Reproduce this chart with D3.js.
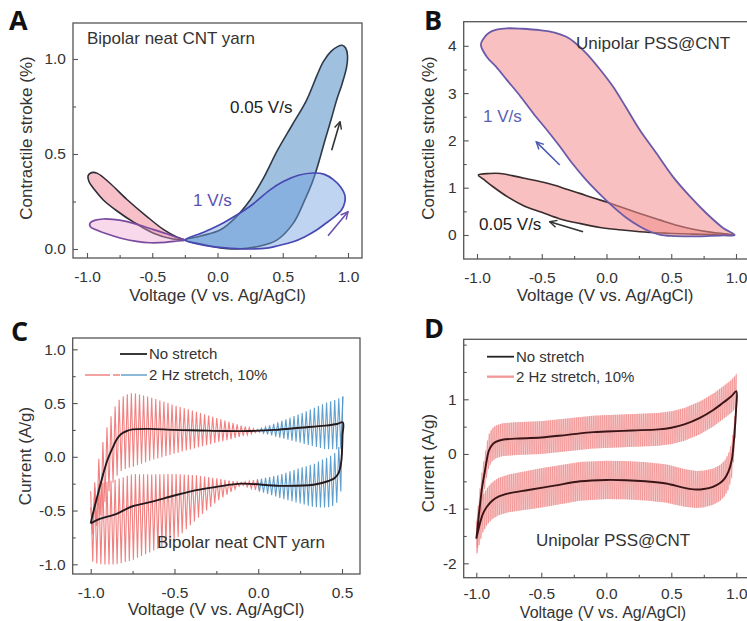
<!DOCTYPE html>
<html><head><meta charset="utf-8">
<script src="https://cdn.jsdelivr.net/npm/d3@7"></script>
<style>body{margin:0;background:#fff} text{font-family:"Liberation Sans",Arial,sans-serif;}</style>
</head><body>
<script>
// ================= DATA =================
// Panel A : contractile stroke loops, bipolar neat CNT yarn
const aLoop05Left = [[-0.25,0.047],[-0.313,0.063],[-0.415,0.103],[-0.543,0.172],[-0.696,0.262],[-0.83,0.35],[-0.92,0.398],[-0.965,0.402],[-0.992,0.385],[-0.985,0.355],[-0.94,0.31],[-0.875,0.258],[-0.77,0.2],[-0.64,0.14],[-0.49,0.083],[-0.36,0.055]];
const aLoop05Right = [[-0.25,0.047],[-0.12,0.07],[0.02,0.1],[0.13,0.16],[0.25,0.258],[0.35,0.37],[0.46,0.52],[0.57,0.65],[0.683,0.784],[0.76,0.91],[0.81,0.985],[0.87,1.04],[0.92,1.065],[0.955,1.072],[0.982,1.058],[0.996,1.02],[0.99,0.96],[0.955,0.87],[0.913,0.784],[0.87,0.68],[0.824,0.574],[0.79,0.49],[0.76,0.42],[0.72,0.34],[0.67,0.26],[0.58,0.135],[0.454,0.047],[0.3,0.012],[0.15,0.0],[0.0,0.008],[-0.12,0.025]];
const aLoop1Left = [[-0.25,0.047],[-0.3,0.058],[-0.39,0.08],[-0.49,0.102],[-0.6,0.126],[-0.7,0.145],[-0.8,0.156],[-0.875,0.158],[-0.935,0.152],[-0.975,0.138],[-0.975,0.118],[-0.926,0.1],[-0.85,0.08],[-0.747,0.058],[-0.62,0.04],[-0.517,0.033],[-0.4,0.035],[-0.31,0.042]];
const aLoop1Right = [[-0.25,0.047],[-0.1,0.09],[0.05,0.14],[0.25,0.225],[0.4,0.31],[0.504,0.355],[0.62,0.388],[0.734,0.40],[0.82,0.393],[0.888,0.365],[0.945,0.325],[0.975,0.285],[0.975,0.245],[0.95,0.205],[0.888,0.165],[0.82,0.13],[0.76,0.1],[0.67,0.065],[0.58,0.038],[0.45,0.015],[0.377,0.005],[0.25,0.0],[0.1,0.004],[-0.05,0.014],[-0.16,0.028]];

// Panel B : unipolar PSS@CNT
const bLoop1 = [[0.99,0.0],[0.9,0.15],[0.771,0.46],[0.65,0.8],[0.514,1.23],[0.38,1.75],[0.257,2.22],[0.15,2.7],[0.05,3.14],[-0.05,3.5],[-0.156,3.84],[-0.25,4.08],[-0.31,4.19],[-0.4,4.28],[-0.515,4.33],[-0.65,4.36],[-0.77,4.37],[-0.85,4.34],[-0.91,4.27],[-0.95,4.15],[-0.97,4.02],[-0.925,3.77],[-0.85,3.55],[-0.77,3.28],[-0.67,2.95],[-0.565,2.57],[-0.46,2.22],[-0.36,1.87],[-0.26,1.5],[-0.156,1.16],[-0.05,0.86],[0.05,0.6],[0.15,0.37],[0.257,0.18],[0.33,0.08],[0.41,0.01],[0.5,-0.02],[0.64,-0.03],[0.8,-0.02],[0.9,-0.01]];
const bLoop05 = [[-0.99,1.27],[-0.9,1.3],[-0.82,1.3],[-0.7,1.24],[-0.6,1.18],[-0.515,1.13],[-0.4,1.05],[-0.3,0.96],[-0.207,0.88],[-0.1,0.78],[0.0,0.7],[0.1,0.6],[0.25,0.46],[0.41,0.32],[0.55,0.2],[0.67,0.12],[0.8,0.06],[0.9,0.03],[0.98,0.0],[0.9,0.0],[0.8,0.01],[0.64,0.02],[0.45,0.04],[0.257,0.07],[0.1,0.11],[-0.05,0.16],[-0.2,0.24],[-0.36,0.34],[-0.5,0.48],[-0.64,0.62],[-0.76,0.8],[-0.876,1.02],[-0.95,1.18]];

// Panel C : CV, bipolar neat CNT yarn (forward and reverse scans)
const cFwd = [[-1.0,-0.62],[-0.99,-0.55],[-0.974,-0.45],[-0.944,-0.27],[-0.92,-0.13],[-0.9,-0.03],[-0.87,0.08],[-0.845,0.16],[-0.82,0.21],[-0.785,0.24],[-0.75,0.255],[-0.65,0.26],[-0.5,0.25],[-0.35,0.245],[-0.2,0.24],[-0.05,0.24],[0.1,0.25],[0.25,0.27],[0.4,0.29],[0.47,0.305],[0.505,0.32]];
const cRev = [[0.505,0.32],[0.503,0.2],[0.5,0.05],[0.495,-0.05],[0.48,-0.15],[0.455,-0.2],[0.42,-0.225],[0.33,-0.26],[0.13,-0.27],[-0.1,-0.25],[-0.25,-0.28],[-0.37,-0.31],[-0.5,-0.36],[-0.64,-0.42],[-0.75,-0.46],[-0.845,-0.53],[-0.95,-0.58],[-1.0,-0.62]];
// envelope of the 2 Hz stretch oscillation (offset above / below the no-stretch curve)
const cEnvX   = [-1.0,-0.95,-0.85,-0.75,-0.5,-0.25,-0.1,0.0,0.1,0.25,0.4,0.5];
const cFwdUp  = [0.15,0.3,0.34,0.34,0.23,0.12,0.05,0.01,0.06,0.13,0.21,0.24];
const cFwdDn  = [0.15,0.3,0.34,0.35,0.22,0.11,0.05,0.01,0.06,0.14,0.22,0.24];
const cRevUp  = [0.3,0.33,0.32,0.3,0.2,0.08,0.01,0.05,0.09,0.16,0.22,0.24];
const cRevDn  = [0.35,0.42,0.47,0.5,0.42,0.14,0.01,0.06,0.1,0.17,0.24,0.26];
const cCycles = 62;

// Panel D : CV, unipolar PSS@CNT
const dFwd = [[-1.0,-1.55],[-0.99,-1.35],[-0.98,-1.1],[-0.97,-0.9],[-0.955,-0.6],[-0.935,-0.33],[-0.92,-0.12],[-0.905,0.05],[-0.88,0.16],[-0.85,0.22],[-0.8,0.26],[-0.7,0.28],[-0.5,0.3],[-0.3,0.35],[-0.1,0.4],[0.0,0.41],[0.2,0.43],[0.4,0.45],[0.5,0.48],[0.6,0.54],[0.72,0.66],[0.82,0.8],[0.9,0.94],[0.96,1.05],[1.0,1.15]];
const dRev = [[1.0,1.15],[0.998,0.8],[0.99,0.5],[0.98,0.2],[0.965,-0.11],[0.94,-0.32],[0.91,-0.45],[0.875,-0.53],[0.82,-0.6],[0.75,-0.64],[0.69,-0.65],[0.6,-0.62],[0.46,-0.54],[0.3,-0.5],[0.15,-0.48],[0.0,-0.475],[-0.2,-0.5],[-0.4,-0.58],[-0.6,-0.66],[-0.75,-0.72],[-0.83,-0.78],[-0.88,-0.86],[-0.92,-0.97],[-0.95,-1.1],[-0.975,-1.3],[-1.0,-1.55]];
const dEnvX   = [-1,-0.5,0,0.5,1];
const dFwdAmp = [0.3,0.3,0.3,0.3,0.3];
const dRevAmp = [0.33,0.36,0.35,0.35,0.32];
const dCycles = 140;

// Tick values
const xTicks2 = [-1,-0.5,0,0.5,1], xMinor2 = [-0.75,-0.25,0.25,0.75];
const xTicksC = [-1,-0.5,0,0.5],  xMinorC = [-0.75,-0.25,0.25];
const yTicksA = [0,0.5,1], yMinorA = [0.25,0.75];
const yTicksB = [0,1,2,3,4], yMinorB = [0.5,1.5,2.5,3.5];
const yTicksC = [-1,-0.5,0,0.5,1], yMinorC = [-0.75,-0.25,0.25,0.75];
const yTicksD = [-2,-1,0,1], yMinorD = [-1.5,-0.5,0.5,1.5,2];

// ================= DRAWING =================
const svg = d3.select('body').append('svg').attr('width',747).attr('height',621);
const defs = svg.append('defs');
function marker(id,color){
  defs.append('marker').attr('id',id).attr('viewBox','0 0 10 10').attr('refX',9).attr('refY',5)
    .attr('markerWidth',9).attr('markerHeight',9).attr('markerUnits','userSpaceOnUse').attr('orient','auto')
    .append('path').attr('d','M1,1 L9,5 L1,9').attr('fill','none').attr('stroke',color).attr('stroke-width',1.6);
}
marker('arK','#333'); marker('arP','#6a50b0'); marker('arB','#4a5ab0');

const f1 = d=>d.toFixed(1), f0 = d=>String(d);
function panel(p){
  const x = d3.scaleLinear().domain(p.xRef).range(p.xPx);
  const y = d3.scaleLinear().domain(p.yRef).range(p.yPx);
  const g = svg.append('g');
  defs.append('clipPath').attr('id','clip'+p.name).append('rect')
    .attr('x',p.l).attr('y',p.t).attr('width',p.r-p.l).attr('height',p.b-p.t);
  const plot = g.append('g').attr('clip-path',`url(#clip${p.name})`);
  const axes = g.append('g');
  const style = sel => { sel.select('.domain').remove(); sel.selectAll('line').attr('stroke','#555').attr('stroke-width',1.1);
    sel.selectAll('text').attr('fill','#333').style('font-size','15.5px'); };
  axes.append('g').attr('transform',`translate(0,${p.b})`)
    .call(d3.axisBottom(x).tickValues(p.xTicks).tickSize(-5).tickPadding(p.xPad||13).tickFormat(p.xFmt)).call(style);
  axes.append('g').attr('transform',`translate(0,${p.b})`)
    .call(d3.axisBottom(x).tickValues(p.xMinor).tickSize(-3).tickFormat('')).call(style);
  axes.append('g').attr('transform',`translate(${p.l},0)`)
    .call(d3.axisLeft(y).tickValues(p.yTicks).tickSize(-5).tickPadding(7).tickFormat(p.yFmt)).call(style);
  axes.append('g').attr('transform',`translate(${p.l},0)`)
    .call(d3.axisLeft(y).tickValues(p.yMinor).tickSize(-3).tickFormat('')).call(style);
  g.append('text').attr('x',p.xt[0]).attr('y',p.xt[1]).attr('text-anchor','middle')
    .attr('fill','#333').style('font-size',(p.xtSize||17)+'px').text('Voltage (V vs. Ag/AgCl)');
  g.append('text').attr('transform',`translate(${p.yt[0]},${p.yt[1]}) rotate(-90)`).attr('text-anchor','middle')
    .attr('dominant-baseline','middle').attr('fill','#333').style('font-size','17px').text(p.yTitle);
  g.append('text').attr('x',p.letter[0]).attr('y',p.letter[1]).attr('fill','#111')
    .style('font-size','27px').style('font-weight','bold').style('font-family','"Open Sans","Liberation Sans",sans-serif').text(p.name);
  const frame = () => g.append('rect').attr('x',p.l).attr('y',p.t).attr('width',p.r-p.l).attr('height',p.b-p.t)
    .attr('fill','none').attr('stroke','#555').attr('stroke-width',1.3);
  return {x,y,plot,g,frame};
}
function text(g,x,y,s,size,color){ return g.append('text').attr('x',x).attr('y',y).attr('fill',color||'#333').style('font-size',(size||17)+'px').text(s); }
function arrow(g,x,y,p0,p1,m,color){
  g.append('line').attr('x1',x(p0[0])).attr('y1',y(p0[1])).attr('x2',x(p1[0])).attr('y2',y(p1[1]))
   .attr('stroke',color).attr('stroke-width',1.6).attr('marker-end',`url(#${m})`);
}

// ---------- Panel A ----------
{
  const P = panel({name:'A', xRef:[-1,1], xPx:[87,348], yRef:[0,1], yPx:[249,59], l:73,t:23,r:362,b:258,
    xTicks:xTicks2, xMinor:xMinor2, yTicks:yTicksA, yMinor:yMinorA, xFmt:f1, yFmt:f1,
    xt:[217.5,301], yt:[28,138], yTitle:'Contractile stroke (%)', letter:[9,30]});
  const {x,y,plot} = P;
  const loop = d3.line().x(d=>x(d[0])).y(d=>y(d[1])).curve(d3.curveCatmullRomClosed.alpha(0.5));
  plot.append('path').attr('d',loop(aLoop05Left)).attr('fill','rgba(240,130,145,0.5)').attr('stroke','#2e2e3a').attr('stroke-width',1.6);
  plot.append('path').attr('d',loop(aLoop05Right)).attr('fill','rgba(80,140,195,0.55)').attr('stroke','#2e3a4a').attr('stroke-width',1.6);
  plot.append('path').attr('d',loop(aLoop1Left)).attr('fill','rgba(235,160,205,0.4)').attr('stroke','#7a4a9e').attr('stroke-width',1.7);
  plot.append('path').attr('d',loop(aLoop1Right)).attr('fill','rgba(110,160,225,0.45)').attr('stroke','#4848b4').attr('stroke-width',1.7);
  text(P.g,87,44,'Bipolar neat CNT yarn',17,'#333');
  text(P.g,x(0.096),y(0.715),'0.05 V/s',17,'#222');
  text(P.g,x(-0.188),y(0.225),'1 V/s',17,'#5a4fb4');
  arrow(P.g,x,y,[0.875,0.52],[0.939,0.67],'arK','#333');
  arrow(P.g,x,y,[0.847,0.07],[1.0,0.196],'arP','#6a50b0');
  P.frame();
}
// ---------- Panel B ----------
{
  const P = panel({name:'B', xRef:[-1,1], xPx:[477,736], yRef:[0,4], yPx:[235,45.8], l:463.7,t:21.7,r:749,b:259,
    xTicks:xTicks2, xMinor:xMinor2, yTicks:yTicksB, yMinor:yMinorB, xFmt:f1, yFmt:f0,
    xt:[605,301], yt:[430,138], yTitle:'Contractile stroke (%)', letter:[424,30]});
  const {x,y,plot} = P;
  const loop = d3.line().x(d=>x(d[0])).y(d=>y(d[1])).curve(d3.curveCatmullRomClosed.alpha(0.5));
  plot.append('path').attr('d',loop(bLoop05)).attr('fill','rgba(242,140,140,0.55)').attr('stroke','#3a2c2c').attr('stroke-width',1.6);
  plot.append('path').attr('d',loop(bLoop1)).attr('fill','rgba(242,140,140,0.55)').attr('stroke','#6a5aa8').attr('stroke-width',1.8);
  text(P.g,576,49,'Unipolar PSS@CNT',17,'#333');
  text(P.g,483,121.7,'1 V/s',17,'#5b60b6');
  text(P.g,479,230,'0.05 V/s',17,'#222');
  arrow(P.g,x,y,[-0.361,1.48],[-0.542,1.97],'arB','#4a5ab0');
  arrow(P.g,x,y,[-0.181,0.07],[-0.439,0.28],'arK','#333');
  P.frame();
}

function lerpPts(pts,xv){
  for(let i=0;i<pts.length-1;i++){
    const [xa,ya]=pts[i],[xb,yb]=pts[i+1];
    if((xv-xa)*(xv-xb)<=0 && xa!==xb) return ya+(yb-ya)*(xv-xa)/(xb-xa);
  }
  return pts[pts.length-1][1];
}
function lerpEnv(ex,ey,xv){ return lerpPts(ex.map((v,i)=>[v,ey[i]]),xv); }
function stretchPts(branch,ex,up,dn,n){
  const x0=branch[0][0], x1=branch[branch.length-1][0], out=[];
  for(let k=0;k<=2*n;k++){
    const xv=x0+(x1-x0)*k/(2*n), c=lerpPts(branch,xv);
    out.push([xv, k%2===0 ? c+lerpEnv(ex,up,xv) : c-lerpEnv(ex,dn,xv)]);
  }
  return out;
}
function bandPts(branch,ex,up,dn,n){
  const x0=branch[0][0], x1=branch[branch.length-1][0], out=[];
  for(let k=0;k<=n;k++){
    const xv=x0+(x1-x0)*k/n, c=lerpPts(branch,xv);
    out.push([xv, c+lerpEnv(ex,up,xv), c-lerpEnv(ex,dn,xv)]);
  }
  return out;
}

// ---------- Panel C ----------
{
  const P = panel({name:'C', xRef:[-1,0.5], xPx:[90.7,342], yRef:[-1,1], yPx:[564.3,349.3], l:72.7,t:338,r:360,b:574,
    xTicks:xTicksC, xMinor:xMinorC, yTicks:yTicksC, yMinor:yMinorC, xFmt:f1, yFmt:f1,
    xt:[216,615], yt:[27,456], yTitle:'Current (A/g)', letter:[11,341]});
  const {x,y,plot} = P;
  const ln = d3.line().x(d=>x(d[0])).y(d=>y(d[1]));
  [stretchPts(cFwd,cEnvX,cFwdUp,cFwdDn,cCycles), stretchPts(cRev,cEnvX,cRevUp,cRevDn,cCycles)].forEach(pts=>{
    const red = pts.filter((d,i)=>d[0]<=0 || (i>0 && pts[i-1][0]<=0) || (i<pts.length-1 && pts[i+1][0]<=0));
    const blue = pts.filter((d,i)=>d[0]>=0 || (i>0 && pts[i-1][0]>=0) || (i<pts.length-1 && pts[i+1][0]>=0));
    plot.append('path').attr('d',ln(red)).attr('fill','none').attr('stroke','#f07272').attr('stroke-width',1.1).attr('opacity',0.9);
    plot.append('path').attr('d',ln(blue)).attr('fill','none').attr('stroke','#4f95c8').attr('stroke-width',1.1).attr('opacity',0.9);
  });
  const smooth = d3.line().x(d=>x(d[0])).y(d=>y(d[1])).curve(d3.curveCatmullRom.alpha(0.5));
  plot.append('path').attr('d',smooth(cFwd.concat(cRev.slice(1)))).attr('fill','none').attr('stroke','#241a1e').attr('stroke-width',1.9);
  // legend
  P.g.append('line').attr('x1',120).attr('x2',147).attr('y1',354).attr('y2',354).attr('stroke','#222').attr('stroke-width',1.8);
  text(P.g,149,359,'No stretch',15,'#333');
  P.g.append('line').attr('x1',85).attr('x2',110).attr('y1',375).attr('y2',375).attr('stroke','#f08a8a').attr('stroke-width',1.6);
  P.g.append('line').attr('x1',113).attr('x2',120).attr('y1',375).attr('y2',375).attr('stroke','#f08a8a').attr('stroke-width',1.6);
  P.g.append('line').attr('x1',121).attr('x2',147).attr('y1',375).attr('y2',375).attr('stroke','#6fa8d0').attr('stroke-width',1.6);
  text(P.g,149,380,'2 Hz stretch, 10%',15,'#333');
  text(P.g,157,548,'Bipolar neat CNT yarn',17,'#333');
  P.frame();
}
// ---------- Panel D ----------
{
  const P = panel({name:'D', xRef:[-1,1], xPx:[476.3,736.3], yRef:[-2,1], yPx:[563.3,399.3], l:463.7,t:339.3,r:750,b:577.7,
    xTicks:xTicks2, xMinor:xMinor2, yTicks:yTicksD, yMinor:yMinorD, xFmt:f1, yFmt:f0, xPad:10,
    xt:[603,617.5], xtSize:16, yt:[430,463], yTitle:'Current (A/g)', letter:[424,338]});
  const {x,y,plot} = P;
  const ln = d3.line().x(d=>x(d[0])).y(d=>y(d[1]));
  const area = d3.area().x(d=>x(d[0])).y0(d=>y(d[2])).y1(d=>y(d[1]));
  [bandPts(dFwd,dEnvX,dFwdAmp,dFwdAmp,200), bandPts(dRev,dEnvX,dRevAmp,dRevAmp,200)].forEach(pts=>{
    plot.append('path').attr('d',area(pts)).attr('fill','rgba(242,150,150,0.35)');
  });
  [stretchPts(dFwd,dEnvX,dFwdAmp,dFwdAmp,dCycles), stretchPts(dRev,dEnvX,dRevAmp,dRevAmp,dCycles)].forEach(pts=>{
    plot.append('path').attr('d',ln(pts)).attr('fill','none').attr('stroke','#ee7a7a').attr('stroke-width',0.8).attr('opacity',0.6);
  });
  const smooth = d3.line().x(d=>x(d[0])).y(d=>y(d[1])).curve(d3.curveCatmullRom.alpha(0.5));
  plot.append('path').attr('d',smooth(dFwd.concat(dRev.slice(1)))).attr('fill','none').attr('stroke','#3a1416').attr('stroke-width',1.9);
  P.g.append('line').attr('x1',487).attr('x2',514).attr('y1',356.7).attr('y2',356.7).attr('stroke','#222').attr('stroke-width',1.8);
  text(P.g,516,362,'No stretch',15,'#333');
  P.g.append('line').attr('x1',487).attr('x2',514).attr('y1',376.7).attr('y2',376.7).attr('stroke','#f29a9a').attr('stroke-width',2.4);
  text(P.g,516,382,'2 Hz stretch, 10%',15,'#333');
  text(P.g,536,546,'Unipolar PSS@CNT',17,'#333');
  P.frame();
}
</script>
</body></html>
